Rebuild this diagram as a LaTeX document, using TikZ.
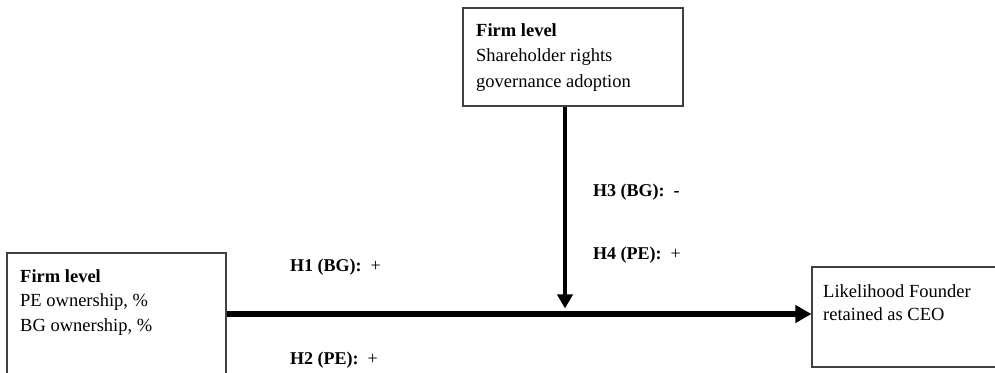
\documentclass[tikz,border=0pt]{standalone}
\usepackage{fontspec}
\setmainfont{Liberation Serif}
\usetikzlibrary{arrows.meta}
\begin{document}
\begin{tikzpicture}[x=1pt,y=1pt,
  boxshape/.style={draw=black!75,line width=1.1pt,rectangle,inner sep=0pt},
  boxtext/.style={anchor=north west,inner sep=0pt,align=left},
  hyplabel/.style={anchor=west,inner sep=0pt,font=\fontsize{18}{22}\selectfont},
  harr/.style={line width=5.5pt,-{Triangle[length=16pt,width=17pt]}},
  varr/.style={line width=4pt,-{Triangle[length=14pt,width=15pt]}}
]
\useasboundingbox[fill=white] (0,0) rectangle (995,372);
% boxes
\node[boxshape,minimum width=219pt,minimum height=139pt] (lbox) at (116.5,49.5) {};
\node[boxshape,minimum width=220pt,minimum height=98pt] (tbox) at (573,315) {};
\node[boxshape,minimum width=198pt,minimum height=100pt] (rbox) at (911,55) {};
% box texts
\node[boxtext,font=\fontsize{18.5}{24.5}\selectfont] (ltext) at (20,102.7) {\textbf{Firm level}\\PE ownership, \%\\BG ownership, \%};
\node[boxtext,font=\fontsize{18.5}{25.5}\selectfont] (ttext) at (476,348.7) {\textbf{Firm level}\\Shareholder rights\\governance adoption};
\node[boxtext,font=\fontsize{18.5}{23.5}\selectfont] (rtext) at (823,87.7) {Likelihood Founder\\retained as CEO};
% junction
\coordinate (junction) at (565,58);
% arrows
\draw[harr] (lbox.east |- junction) -- (rbox.west |- junction);
\draw[varr] (tbox.south -| junction) -- ([yshift=5.5pt]junction);
% labels
\node[hyplabel] (h1) at (290,105) {\textbf{H1 (BG):}~~+};
\node[hyplabel] (h2) at (290,12) {\textbf{H2 (PE):}~~+};
\node[hyplabel] (h3) at (593,180) {\textbf{H3 (BG):~~-}};
\node[hyplabel] (h4) at (593,117) {\textbf{H4 (PE):}~~+};
\end{tikzpicture}
\end{document}
